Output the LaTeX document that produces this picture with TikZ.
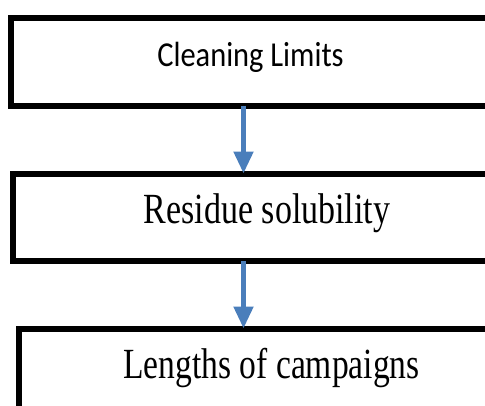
\documentclass[tikz,border=0pt]{standalone}
\usepackage{fontspec}
\setmainfont{Liberation Serif}
\newfontfamily\calfont{Carlito}
\usepackage{tikz}
\usetikzlibrary{arrows.meta,calc}
\definecolor{flowblue}{HTML}{4A7EBB}

\begin{document}
\begin{tikzpicture}[x=1pt, y=-1pt, outer sep=0pt,
  box/.style={draw, line width=6pt, rectangle, inner sep=0pt},
  flow/.style={-{Triangle[width=19pt,length=22pt]}, draw=flowblue, fill=flowblue, line width=5pt}]

\useasboundingbox (0,0) rectangle (485,405);
\clip (0,0) rectangle (485,405);

\node [box, minimum width=589.5pt, minimum height=87.5pt] at (305.25, 61.75) (CLEAN_LIM) {};
\node [box, minimum width=587pt, minimum height=87.5pt] at (306.5, 217.25) (RES_SOL) {};
\node [box, minimum width=581.5pt, minimum height=111.5pt] at (309.25, 384.25) (LEN_CAMP) {};

\node [anchor=base, inner sep=0pt] at (250.5, 66) (CLEAN_LIM_TXT)
  {\fontsize{35}{40}\selectfont\calfont\scalebox{0.87}[1]{Cleaning Limits}};
\node [anchor=base, inner sep=0pt] at (267, 223) (RES_SOL_TXT)
  {\fontsize{43}{48}\selectfont\scalebox{0.79}[1]{Residue solubility}};
\node [anchor=base, inner sep=0pt] at (271.5, 378) (LEN_CAMP_TXT)
  {\fontsize{43}{48}\selectfont\scalebox{0.78}[1]{Lengths of campaigns}};

\coordinate (AX) at (243.5, 0);
    \draw [flow] (AX |- CLEAN_LIM.south) -- (AX |- RES_SOL.north);
    \draw [flow] (AX |- RES_SOL.south) -- (AX |- LEN_CAMP.north);
\end{tikzpicture}
\end{document}
